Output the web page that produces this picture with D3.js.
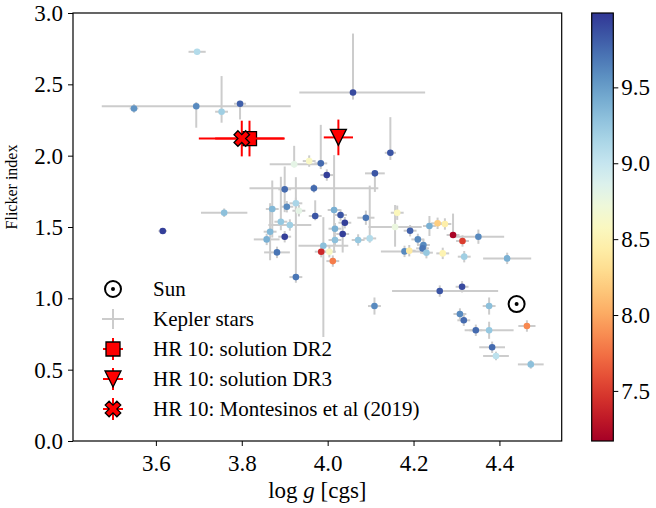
<!DOCTYPE html>
<html>
<head>
<meta charset="utf-8">
<script src="https://cdn.jsdelivr.net/npm/d3@7/dist/d3.min.js"></script>
<style>
body { margin: 0; background: #fff; }
svg text { font-family: "Liberation Serif", "Times New Roman", serif !important; fill: #000; }
</style>
</head>
<body>
<svg id="chart" width="656" height="508"></svg>
<script>
// Kepler stars: log g, flicker index, colour value, errors as [low, high]
var keplerLogg = [3.696, 3.549, 3.694, 3.753, 3.796, 4.059, 4.146, 3.984, 3.922, 3.957,
    3.998, 4.110, 3.968, 3.900, 3.926, 3.933, 4.015, 4.030, 4.040, 3.971,
    4.089, 4.162, 4.017, 4.035, 4.098, 4.157, 4.192, 4.237, 4.256, 4.273,
    4.292, 4.314, 4.351, 3.912, 4.017, 3.990, 4.071, 3.985, 4.004, 4.012,
    4.210, 4.223, 4.221, 4.179, 4.190, 4.230, 4.268, 4.318, 4.418, 3.926,
    4.261, 4.313, 4.109, 4.376, 4.308, 4.317, 4.345, 4.376, 4.464, 4.383,
    4.392, 4.473, 3.616, 3.759, 3.871, 3.905, 3.891, 3.866, 3.858, 3.900, 3.882];
var keplerFlicker = [2.728, 2.331, 2.346, 2.308, 2.364, 2.443, 2.020, 1.946, 1.939, 1.962,
    1.864, 1.876, 1.771, 1.764, 1.666, 1.614, 1.619, 1.584, 1.530, 1.577,
    1.565, 1.600, 1.488, 1.451, 1.420, 1.500, 1.474, 1.507, 1.526, 1.521,
    1.444, 1.402, 1.432, 1.514, 1.409, 1.369, 1.409, 1.327, 1.327, 1.261,
    1.413, 1.374, 1.350, 1.329, 1.334, 1.320, 1.315, 1.292, 1.280, 1.149,
    1.051, 1.081, 0.946, 0.946, 0.890, 0.846, 0.776, 0.776, 0.806, 0.657,
    0.596, 0.537, 1.472, 1.600, 1.626, 1.642, 1.537, 1.467, 1.413, 1.432, 1.322];
var keplerColour = [9.10, 9.55, 9.60, 9.20, 9.80, 9.90, 9.85, 9.75, 8.80, 8.60,
    9.95, 9.85, 9.75, 9.75, 9.15, 8.80, 9.40, 9.85, 9.95, 9.85,
    9.70, 8.55, 9.40, 9.95, 9.10, 8.75, 9.80, 9.40, 8.20, 8.45,
    7.20, 7.50, 9.60, 9.20, 9.30, 9.30, 9.25, 7.40, 8.60, 7.80,
    9.60, 9.60, 9.70, 9.60, 8.40, 9.25, 8.50, 9.20, 9.40, 9.70,
    9.85, 9.90, 9.60, 9.30, 9.60, 9.75, 9.75, 9.25, 7.85, 9.75,
    9.05, 9.30, 9.95, 9.30, 9.35, 9.60, 9.25, 9.35, 9.40, 9.95, 9.70];
var keplerLoggErr = [[0.02,0.02],[0.01,0.01],[0.22,0.22],[0.015,0.015],[0.014,0.014],[0.125,0.168],[0.013,0.013],[0.015,0.015],[0.057,0.057],[0.015,0.015],
    [0.015,0.015],[0.023,0.023],[0.15,0.15],[0.015,0.015],[0.015,0.015],[0.015,0.015],[0.015,0.015],[0.015,0.015],[0.015,0.015],[0.015,0.015],
    [0.02,0.02],[0.015,0.015],[0.015,0.015],[0.015,0.015],[0.015,0.015],[0.062,0.062],[0.015,0.015],[0.015,0.015],[0.015,0.015],[0.015,0.015],
    [0.015,0.015],[0.015,0.015],[0.06,0.06],[0.05,0.05],[0.015,0.015],[0.058,0.058],[0.015,0.015],[0.015,0.015],[0.015,0.015],[0.015,0.015],
    [0.015,0.015],[0.015,0.015],[0.015,0.015],[0.055,0.055],[0.015,0.015],[0.015,0.015],[0.015,0.015],[0.015,0.015],[0.056,0.056],[0.015,0.015],
    [0.111,0.136],[0.015,0.015],[0.015,0.015],[0.015,0.015],[0.015,0.015],[0.015,0.015],[0.015,0.015],[0.057,0.057],[0.02,0.02],[0.03,0.03],
    [0.03,0.03],[0.03,0.03],[0.01,0.01],[0.054,0.054],[0.015,0.015],[0.015,0.015],[0.015,0.015],[0.015,0.015],[0.03,0.03],[0.015,0.015],[0.03,0.03]];
var keplerFlickerErr = [[0.02,0.02],[0.03,0.03],[0.15,0.03],[0.077,0.25],[0.11,0.02],[0.05,0.413],[0.05,0.25],[0.04,0.27],[0.02,0.13],[0.04,0.04],
    [0.04,0.04],[0.13,0.02],[0.03,0.03],[0.16,0.16],[0.04,0.04],[0.04,0.04],[0.3,0.385],[0.04,0.04],[0.04,0.04],[0.03,0.11],
    [0.05,0.05],[0.05,0.05],[0.04,0.04],[0.13,0.08],[0.03,0.37],[0.138,0.154],[0.04,0.04],[0.07,0.07],[0.04,0.04],[0.04,0.04],
    [0.02,0.15],[0.04,0.04],[0.05,0.05],[0.04,0.04],[0.04,0.04],[0.64,0.2],[0.04,0.04],[0.04,0.04],[0.04,0.04],[0.04,0.04],
    [0.04,0.04],[0.04,0.04],[0.04,0.04],[0.04,0.04],[0.04,0.04],[0.04,0.04],[0.04,0.04],[0.04,0.04],[0.04,0.04],[0.04,0.7],
    [0.04,0.04],[0.04,0.04],[0.06,0.06],[0.06,0.06],[0.04,0.04],[0.04,0.04],[0.04,0.04],[0.06,0.06],[0.04,0.04],[0.04,0.04],
    [0.03,0.03],[0.03,0.03],[0.02,0.02],[0.03,0.03],[0.2,0.2],[0.04,0.04],[0.06,0.315],[0.2,0.2],[0.04,0.04],[0.04,0.04],[0.04,0.04]];

// HR 10 and the Sun
var hr10Names = ['HR 10: solution DR2', 'HR 10: solution DR3', 'HR 10: Montesinos et al (2019)'];
var hr10Logg = [3.818, 4.025, 3.800];
var hr10Flicker = [2.12, 2.128, 2.12];
var hr10LoggErr = [0.08, 0.034, 0.10];
var hr10FlickerErr = [0.125, 0.125, 0.125];
var sunLogg = 4.44;
var sunFlicker = 0.96;

var xTicks = [3.6, 3.8, 4.0, 4.2, 4.4];
var yTicks = [0.0, 0.5, 1.0, 1.5, 2.0, 2.5, 3.0];
var cbTicks = [7.5, 8.0, 8.5, 9.0, 9.5];
var colourDomain = [7.17, 9.99];

var serif = '"Liberation Serif", "Times New Roman", serif';
var svg = d3.select('#chart');

var pLeft = 73, pRight = 561.7, pTop = 13, pBottom = 441;

var x = d3.scaleLinear().domain([3.407, 4.545]).range([pLeft, pRight]);
var y = d3.scaleLinear().domain([0, 3]).range([pBottom, pTop]);
var colour = d3.scaleSequential(d3.interpolateRdYlBu).domain(colourDomain);

var stars = keplerLogg.map(function(v, i) {
    return {logg: v, flick: keplerFlicker[i], c: keplerColour[i],
        xe: keplerLoggErr[i], ye: keplerFlickerErr[i]};
});

var plot = svg.append('g').attr('class', 'plot');

// grey error bars first, dots on top
var errs = plot.append('g').attr('stroke', '#cccccc').attr('stroke-width', 2);
stars.forEach(function(d) {
    errs.append('line')
        .attr('x1', x(d.logg - d.xe[0])).attr('x2', x(d.logg + d.xe[1]))
        .attr('y1', y(d.flick)).attr('y2', y(d.flick));
    errs.append('line')
        .attr('x1', x(d.logg)).attr('x2', x(d.logg))
        .attr('y1', y(d.flick - d.ye[0])).attr('y2', y(d.flick + d.ye[1]));
});

plot.append('g').selectAll('circle')
    .data(stars)
    .enter()
    .append('circle')
    .attr('cx', d => x(d.logg))
    .attr('cy', d => y(d.flick))
    .attr('r', 3.3)
    .attr('fill', d => colour(d.c));

// marker shapes
function squarePath(s) {
    var h = s / 2;
    return 'M' + (-h) + ',' + (-h) + 'H' + h + 'V' + h + 'H' + (-h) + 'Z';
}
function triPath(r) {
    return 'M0,' + r + 'L' + (-r) + ',' + (-r) + 'L' + r + ',' + (-r) + 'Z';
}
function crossPath(s) {
    // filled X: a plus rotated by 45 degrees
    var k = s / 2 / 3.1;
    var pts = [[-1,-3],[1,-3],[1,-1],[3,-1],[3,1],[1,1],[1,3],[-1,3],[-1,1],[-3,1],[-3,-1],[-1,-1]];
    var c = Math.SQRT1_2;
    return 'M' + pts.map(function(p) {
        var px = (p[0] - p[1]) * c * k, py = (p[0] + p[1]) * c * k;
        return px.toFixed(2) + ',' + py.toFixed(2);
    }).join('L') + 'Z';
}
var hrShapes = [squarePath(14), triPath(8), crossPath(17)];

function drawHr(g, cx, cy, i, ex, ey) {
    g.append('line').attr('x1', cx - ex).attr('x2', cx + ex).attr('y1', cy).attr('y2', cy)
        .attr('stroke', 'red').attr('stroke-width', 2);
    g.append('line').attr('x1', cx).attr('x2', cx).attr('y1', cy - ey).attr('y2', cy + ey)
        .attr('stroke', 'red').attr('stroke-width', 2);
    g.append('path').attr('d', hrShapes[i])
        .attr('transform', 'translate(' + cx + ',' + cy + ')')
        .attr('fill', 'red').attr('stroke', '#000').attr('stroke-width', 1.3);
}

var hrG = plot.append('g');
hr10Logg.forEach(function(v, i) {
    var g = hrG.append('g');
    g.append('line')
        .attr('x1', x(v - hr10LoggErr[i])).attr('x2', x(v + hr10LoggErr[i]))
        .attr('y1', y(hr10Flicker[i])).attr('y2', y(hr10Flicker[i]))
        .attr('stroke', 'red').attr('stroke-width', 2);
    g.append('line')
        .attr('x1', x(v)).attr('x2', x(v))
        .attr('y1', y(hr10Flicker[i] - hr10FlickerErr[i])).attr('y2', y(hr10Flicker[i] + hr10FlickerErr[i]))
        .attr('stroke', 'red').attr('stroke-width', 2);
    g.append('path').attr('d', hrShapes[i])
        .attr('transform', 'translate(' + x(v) + ',' + y(hr10Flicker[i]) + ')')
        .attr('fill', 'red').attr('stroke', '#000').attr('stroke-width', 1.3);
});

function drawSun(g, cx, cy) {
    g.append('circle').attr('cx', cx).attr('cy', cy).attr('r', 8)
        .attr('fill', 'none').attr('stroke', '#000').attr('stroke-width', 2);
    g.append('circle').attr('cx', cx).attr('cy', cy).attr('r', 2).attr('fill', '#000');
}
drawSun(plot, x(sunLogg), y(sunFlicker));

// axes
var xAxis = svg.append('g')
    .attr('transform', 'translate(0,' + pBottom + ')')
    .call(d3.axisBottom(x).tickValues(xTicks).tickFormat(d3.format('.1f')).tickSize(5).tickPadding(5));
var yAxis = svg.append('g')
    .attr('transform', 'translate(' + pLeft + ',0)')
    .call(d3.axisLeft(y).tickValues(yTicks).tickFormat(d3.format('.1f')).tickSize(5).tickPadding(5));
[xAxis, yAxis].forEach(function(a) {
    a.attr('font-family', serif);
    a.select('.domain').remove();
    a.selectAll('.tick line').attr('stroke', '#000').attr('stroke-width', 1);
    a.selectAll('.tick text').attr('font-size', 23).attr('fill', '#000')
        .style('font-family', serif);
});
xAxis.selectAll('.tick text').attr('dy', '0.85em');

svg.append('rect')
    .attr('x', pLeft).attr('y', pTop)
    .attr('width', pRight - pLeft).attr('height', pBottom - pTop)
    .attr('fill', 'none').attr('stroke', '#000').attr('stroke-width', 1.2);

svg.append('text')
    .attr('x', (pLeft + pRight) / 2).attr('y', 498)
    .attr('text-anchor', 'middle').attr('font-size', 23)
    .html('log <tspan font-style="italic">g</tspan> [cgs]');

svg.append('text')
    .attr('transform', 'translate(17,187) rotate(-90)')
    .attr('text-anchor', 'middle').attr('font-size', 16)
    .text('Flicker index');

// legend
var legend = svg.append('g');
var legX = 113, legTextX = 153, legY0 = 289, legStep = 30;
var legLabels = ['Sun', 'Kepler stars'].concat(hr10Names);
legLabels.forEach(function(lab, i) {
    var cy = legY0 + i * legStep;
    if (i == 0) drawSun(legend, legX, cy);
    else if (i == 1) {
        legend.append('line').attr('x1', legX - 11).attr('x2', legX + 11).attr('y1', cy).attr('y2', cy)
            .attr('stroke', '#cccccc').attr('stroke-width', 2);
        legend.append('line').attr('x1', legX).attr('x2', legX).attr('y1', cy - 10).attr('y2', cy + 10)
            .attr('stroke', '#cccccc').attr('stroke-width', 2);
    } else drawHr(legend, legX, cy, i - 2, 10, 11);
    legend.append('text')
        .attr('x', legTextX).attr('y', cy).attr('dy', '0.35em')
        .attr('font-size', 21)
        .text(lab);
});

// colorbar
var cbLeft = 591.7, cbW = 21.6;
var cbY = d3.scaleLinear().domain(colourDomain).range([pBottom, pTop]);
var grad = svg.append('defs').append('linearGradient')
    .attr('id', 'cbgrad').attr('x1', 0).attr('x2', 0).attr('y1', 1).attr('y2', 0);
d3.range(0, 1.0001, 0.05).forEach(function(t) {
    grad.append('stop').attr('offset', t)
        .attr('stop-color', d3.interpolateRdYlBu(t));
});
svg.append('rect')
    .attr('x', cbLeft).attr('y', pTop).attr('width', cbW).attr('height', pBottom - pTop)
    .attr('fill', 'url(#cbgrad)').attr('stroke', '#000').attr('stroke-width', 1.2);
var cbAxis = svg.append('g')
    .attr('font-family', serif)
    .attr('transform', 'translate(' + (cbLeft + cbW) + ',0)')
    .call(d3.axisRight(cbY).tickValues(cbTicks).tickFormat(d3.format('.1f')).tickSize(5).tickPadding(3));
cbAxis.select('.domain').remove();
cbAxis.selectAll('.tick text').attr('font-size', 23).attr('fill', '#000')
    .style('font-family', serif);
</script>
</body>
</html>
